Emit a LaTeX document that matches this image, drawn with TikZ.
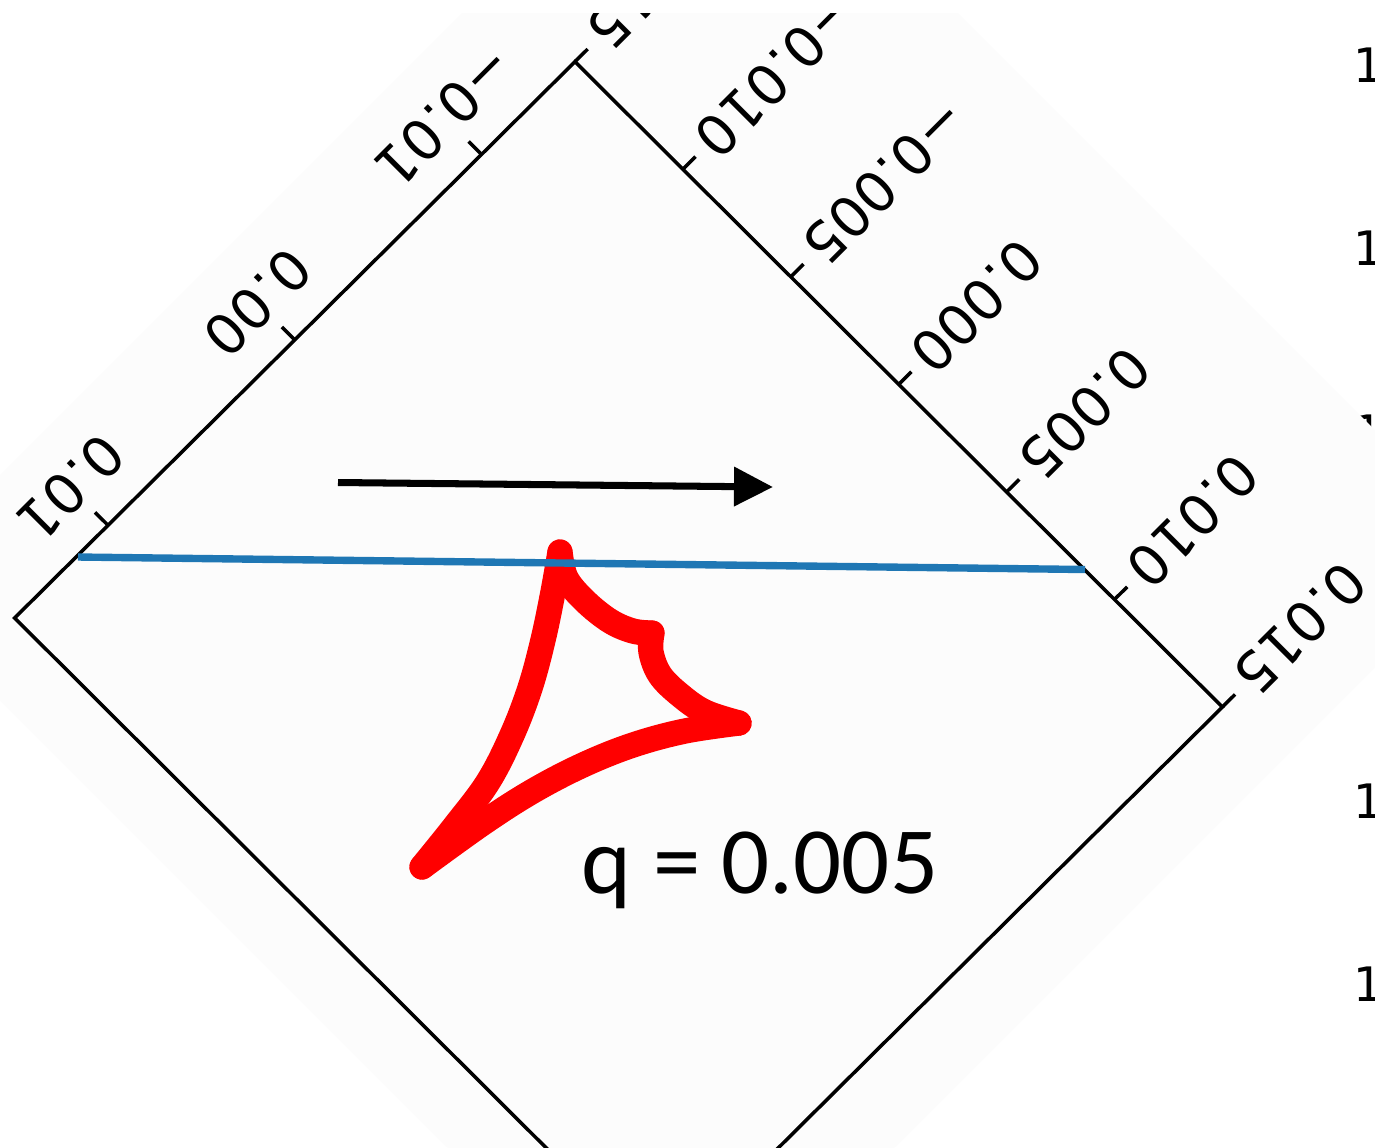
\documentclass[tikz,border=0pt]{standalone}
\usepackage{fontspec}
\setmainfont{Carlito}
\newfontfamily\mplfont{DejaVu Sans}
\usetikzlibrary{arrows.meta}
\definecolor{figbg}{RGB}{252,252,252}
\definecolor{mplblue}{RGB}{31,119,180}

\begin{document}
\begin{tikzpicture}[x=0.01cm, y=-0.01cm,
  axline/.style={line width=1pt, line join=miter},
  tk/.style={line width=1pt},
  tlab/.style={rotate=225, inner sep=0pt, outer sep=3.7pt, font=\mplfont\fontsize{15.8}{16}\selectfont},
  rlab/.style={anchor=base west, inner sep=0pt, font=\mplfont\fontsize{13.5}{14}\selectfont},
  caus/.style={color=red, line width=7.2pt, line cap=round, line join=round}]
  \useasboundingbox (0,0) rectangle (1375,1147);
  \clip (0,0) rectangle (1375,1147);
  \fill[white] (0,0) rectangle (1375,1147);
  % labels of the next panel, cut at the edge
  \foreach \yy [count=\i] in {82,265,449,632,818,1001}
    \node[rlab] (r\i) at (1353,\yy) {1};
  % rotated figure area
  \fill[figbg] (464,11) -- (956,11) -- (1493.5,548.5) -- (671,1371) -- (-112.5,587.5) -- cycle;
  % axes, turned by 225 degrees
  \begin{scope}[shift={(618.5,662.5)}, x={(-0.18667cm,-0.18533cm)}, y={(0.21567cm,-0.215cm)}]
    \coordinate (T) at (-15,-15);
    \coordinate (L) at (15,-15);
    \coordinate (B) at (15,15);
    \coordinate (R) at (-15,15);
    \draw[axline] (T) -- (L) -- (B) -- (R) -- cycle;
    \foreach \u/\t [count=\i] in {-10/{−0.01}, 0/{0.00}, 10/{0.01}}{
      \draw[tk] (\u,-15) -- (\u,-15.6);
      \node[tlab, anchor=north] (xl\i) at (\u,-15.6) {\t};
    }
    \foreach \v/\t [count=\i] in {-15/{−0.015}, -10/{−0.010}, -5/{−0.005}, 0/{0.000}, 5/{0.005}, 10/{0.010}, 15/{0.015}}{
      \draw[tk] (-15,\v) -- (-15.68,\v);
      \node[tlab, anchor=east] (yl\i) at (-15.68,\v) {\t};
    }
  \end{scope}
  % white strip along the top edge
  \fill[white] (0,0) rectangle (1375,13);
  % caustic
  \draw[caus] plot[smooth, tension=0.6] coordinates {(422,867) (455,826) (488,782) (512,735) (530,688) (543,640) (553,592) (560,552)};
  \draw[caus] plot[smooth, tension=0.6] coordinates {(560,552) (566,578) (585,601) (610,621) (633,631) (652,633)};
  \draw[caus] plot[smooth, tension=0.6] coordinates {(652,633) (651,652) (660,675) (680,695) (705,712) (739,723)};
  \draw[caus] plot[smooth, tension=0.6] coordinates {(739,723) (685,731) (633,745) (583,765) (533,791) (483,823) (422,867)};
  % source track
  \coordinate (b0) at (78,557);
  \coordinate (b1) at (1085,569.5);
  \draw[mplblue, line width=2.1pt] (b0) -- (b1);
  % direction of motion
  \coordinate (a0) at (338,482.5);
  \coordinate (a1) at (773,487);
  \draw[-{Triangle[length=3.9mm, width=3.8mm]}, line width=2pt] (a0) -- (a1);
  \node[anchor=base, inner sep=0pt, font=\fontsize{27}{29}\selectfont] (q) at (760,893) {q = 0.005};
\end{tikzpicture}
\end{document}
